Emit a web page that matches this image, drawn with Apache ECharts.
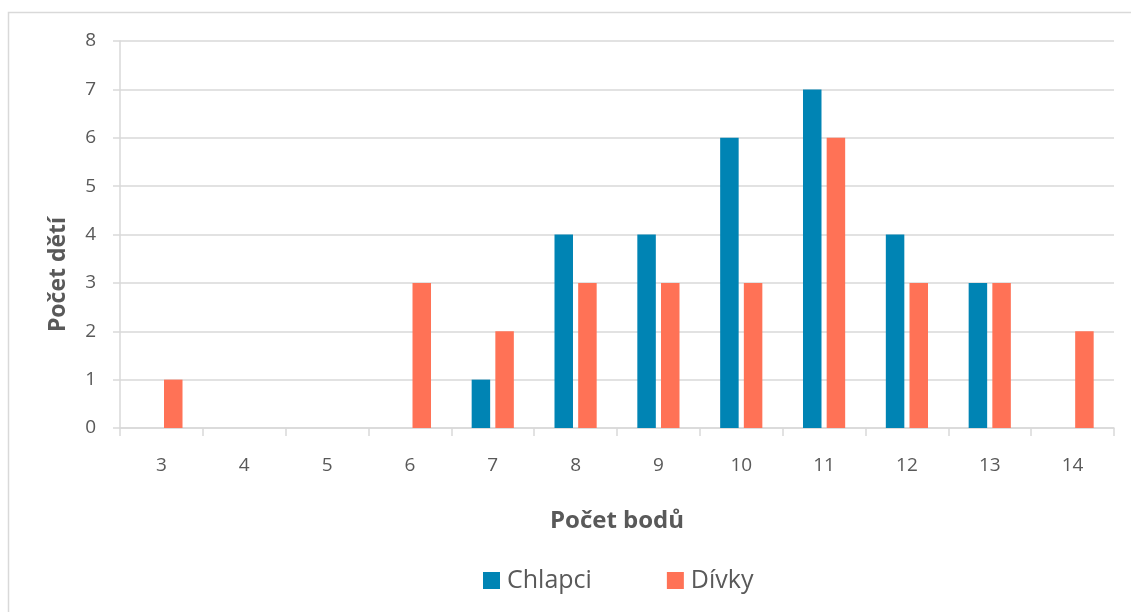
<!DOCTYPE html>
<html>
<head>
<meta charset="utf-8">
<script src="https://cdn.jsdelivr.net/npm/echarts@6/dist/echarts.min.js"></script>
<style>
  html, body { margin: 0; padding: 0; background: #fff; }
  #chart { width: 1131px; height: 612px; }
</style>
</head>
<body>
<div id="chart"></div>
<script>
// Počet bodů (score) categories
const categories = ['3', '4', '5', '6', '7', '8', '9', '10', '11', '12', '13', '14'];
// Number of children per score
const chlapci = [0, 0, 0, 0, 1, 4, 4, 6, 7, 4, 3, 0];
const divky   = [1, 0, 0, 3, 2, 3, 3, 3, 6, 3, 3, 2];

const FONT = '"Open Sans", "Noto Sans", sans-serif';
const TEXT = '#595959';
const LINE = '#D9D9D9';

const chart = echarts.init(document.getElementById('chart'), null, { renderer: 'canvas' });

chart.setOption({
  animation: false,
  backgroundColor: '#ffffff',
  textStyle: { fontFamily: FONT, color: TEXT },
  graphic: [{
    type: 'rect',
    silent: true,
    shape: { x: 8.5, y: 12.5, width: 1300, height: 800 },
    style: { fill: null, stroke: LINE, lineWidth: 1.5 }
  }],
  grid: { left: 120, right: 17, top: 41, bottom: 184, containLabel: false },
  legend: {
    bottom: 14,
    left: 478,
    itemWidth: 17,
    itemHeight: 17,
    itemGap: 75,
    icon: 'rect',
    textStyle: { fontFamily: FONT, fontSize: 25, color: TEXT, padding: [0, 0, 0, 2] },
    data: ['Chlapci', 'Dívky']
  },
  xAxis: {
    type: 'category',
    data: categories,
    name: 'Počet bodů',
    nameLocation: 'middle',
    nameGap: 81,
    nameTextStyle: { fontFamily: FONT, fontSize: 24, fontWeight: 'bold', color: TEXT },
    axisLine: { show: true, lineStyle: { color: LINE, width: 1.5 } },
    axisTick: { show: true, length: 8, lineStyle: { color: LINE, width: 1.5 } },
    axisLabel: { margin: 28, fontSize: 19, color: TEXT, fontFamily: FONT },
    splitLine: { show: false }
  },
  yAxis: {
    type: 'value',
    min: 0,
    max: 8,
    interval: 1,
    name: 'Počet dětí',
    nameLocation: 'middle',
    nameGap: 50,
    nameTextStyle: { fontFamily: FONT, fontSize: 23, fontWeight: 'bold', color: TEXT, padding: [0, 80, 0, 0] },
    axisLine: { show: true, lineStyle: { color: LINE, width: 1.5 } },
    axisTick: { show: true, length: 7, lineStyle: { color: LINE, width: 1.5 } },
    axisLabel: { margin: 24, fontSize: 19, color: TEXT, fontFamily: FONT },
    splitLine: { show: true, lineStyle: { color: LINE, width: 1.5 } }
  },
  series: [
    {
      name: 'Chlapci',
      type: 'bar',
      data: chlapci,
      barWidth: 18.5,
      barGap: '28%',
      itemStyle: { color: '#0084B4' }
    },
    {
      name: 'Dívky',
      type: 'bar',
      data: divky,
      barWidth: 18.5,
      barGap: '28%',
      itemStyle: { color: '#FF7256' }
    }
  ]
});
</script>
</body>
</html>
